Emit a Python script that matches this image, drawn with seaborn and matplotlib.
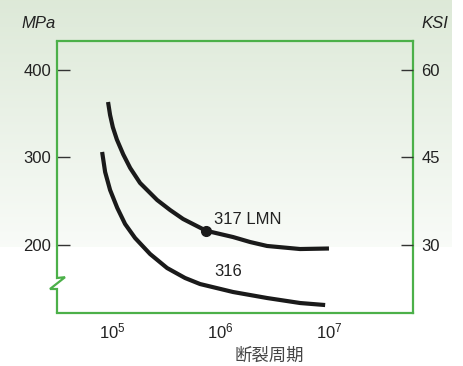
import numpy as np
import pandas as pd
import matplotlib
matplotlib.use("Agg")
import matplotlib.pyplot as plt
import seaborn as sns
from matplotlib.ticker import NullLocator

# === Data ===
cycles_317 = [9.12e4, 9.52e4, 1.01e5, 1.10e5, 1.26e5, 1.46e5, 1.80e5, 2.59e5,
              3.41e5, 4.50e5, 7.33e5, 1.30e6, 1.87e6, 2.68e6, 5.41e6, 1.0e7]
mpa_317 = [363.4, 348.6, 334.5, 320.5, 303.5, 288.0, 270.9, 251.4,
           240.0, 229.7, 216.3, 209.1, 203.4, 198.9, 195.4, 196.0]
cycles_316 = [8.04e4, 8.57e4, 9.52e4, 1.11e5, 1.31e5, 1.62e5, 2.23e5, 3.20e5,
              4.69e5, 6.45e5, 1.30e6, 2.69e6, 5.42e6, 9.22e6]
mpa_316 = [306.3, 283.4, 262.9, 242.3, 224.0, 208.0, 189.7, 173.7,
           162.3, 155.4, 146.3, 139.4, 133.7, 131.4]
dot_cycles = [7.33e5]
dot_mpa = [216.3]

mpa_ticks = [200, 300, 400]
ksi_labels = ["30", "45", "60"]
x_ticks = [1e5, 1e6, 1e7]
series_names = ["317 LMN", "316"]

df = pd.concat([
    pd.DataFrame({"cycles": cycles_317, "mpa": mpa_317, "alloy": series_names[0]}),
    pd.DataFrame({"cycles": cycles_316, "mpa": mpa_316, "alloy": series_names[1]}),
])

sns.set_style("white")
plt.rcParams['font.family'] = ['Liberation Sans', 'DejaVu Sans']

W, H = 463, 366
fig = plt.figure(figsize=(W / 100, H / 100), dpi=100)

# === Background gradient ===
bg = fig.add_axes([0, 1 - 247 / H, 452 / W, 247 / H])
grad = np.linspace(0, 1, 256)[:, None]
top = np.array([0.867, 0.914, 0.847])
bot = np.array([0.975, 0.985, 0.972])
img = top[None, None, :] * (1 - grad[:, :, None]) + bot[None, None, :] * grad[:, :, None]
bg.imshow(img, aspect='auto', extent=[0, 1, 0, 1])
bg.axis('off')

# === Main axes ===
green = '#4cb049'
ax = fig.add_axes([57 / W, 1 - 313 / H, 356 / W, 272 / H])
ax.patch.set_alpha(0)
ax.set_xscale('log')
ax.set_xlim(3.08e4, 5.97e7)
ax.set_ylim(122.3, 433.1)

sns.lineplot(data=df, x="cycles", y="mpa", units="alloy", estimator=None,
             color='#1a1a1a', linewidth=3, sort=False, ax=ax, legend=False,
             solid_joinstyle='round', solid_capstyle='butt')
ax.plot(dot_cycles, dot_mpa, 'o', color='#1a1a1a', markersize=7)

for side in ['top', 'right', 'bottom']:
    ax.spines[side].set_color(green)
    ax.spines[side].set_linewidth(1.6)
    ax.spines[side].set_visible(True)
ax.spines['left'].set_visible(False)

# broken left spine
y_brk_top = 1 - (278 - 41) / 272
y_brk_bot = 1 - (289 - 41) / 272
dx = 1 / 356
ax.plot([0, 0, 8 * dx, -7 * dx, 0, 0],
        [1, y_brk_top, y_brk_top + 0.003, y_brk_bot, y_brk_bot, 0],
        transform=ax.transAxes, color=green, linewidth=1.6, clip_on=False,
        solid_joinstyle='miter')

ax.set_yticks(mpa_ticks)
ax.set_yticklabels([str(t) for t in mpa_ticks])
ax.set_xticks(x_ticks)
ax.xaxis.set_minor_locator(NullLocator())
ax.tick_params(axis='both', direction='in', length=9, width=1, color='#333333',
               labelsize=12, labelcolor='#222222', pad=4)
ax.tick_params(axis='x', pad=6)
ax.set_xlabel('')
ax.set_ylabel('')

# right axis in KSI
ax2 = ax.twinx()
ax2.set_ylim(30 + (122.3 - 200) * 0.15, 30 + (433.1 - 200) * 0.15)
ax2.set_yticks([30, 45, 60])
ax2.set_yticklabels(ksi_labels)
ax2.tick_params(axis='y', direction='in', length=9, width=1, color='#333333',
                labelsize=12, labelcolor='#222222', pad=6)
for s in ax2.spines.values():
    s.set_visible(False)

# curve labels
ax.text(8.7e5, 229, series_names[0], fontsize=12, color='#222222', va='center')
ax.text(8.7e5, 169.5, series_names[1], fontsize=12, color='#222222', va='center')

# unit labels and x label
fig.text(39 / W, 1 - 23 / H, 'MPa', fontsize=12, style='italic', color='#222222',
         ha='center', va='center')
fig.text(435 / W, 1 - 23 / H, 'KSI', fontsize=12, style='italic', color='#222222',
         ha='center', va='center')
fig.text(269 / W, 1 - 356 / H, '断裂周期', fontsize=12.5, color='#444444',
         ha='center', va='center', family=['Noto Sans CJK SC', 'DejaVu Sans'])

fig.savefig('out.png', dpi=100, facecolor='white')
